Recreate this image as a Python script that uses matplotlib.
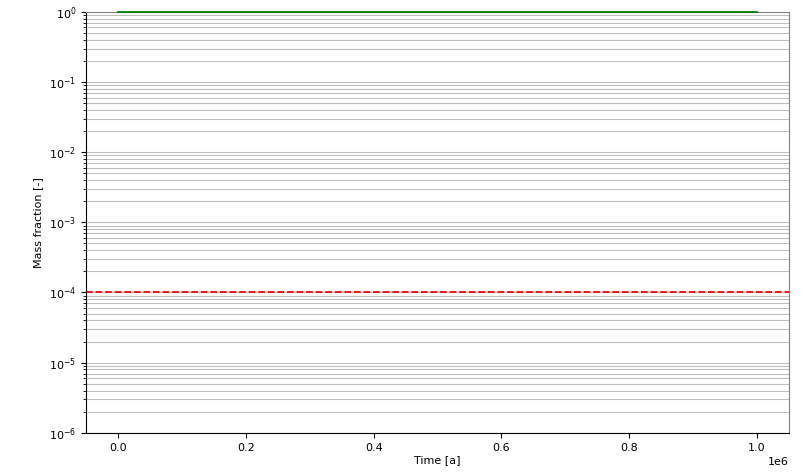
# mass fraction over time, log scale, with a detection limit line
import matplotlib
matplotlib.use("Agg")
import matplotlib.pyplot as plt

# DATA
time = [0.0, 2.0e5, 4.0e5, 6.0e5, 8.0e5, 1.0e6]  # a
mass_fraction = [1.0, 1.0, 1.0, 1.0, 1.0, 1.0]  # -
limit = 1e-4

plt.rcParams["font.size"] = 8

fig, ax = plt.subplots(figsize=(8.05, 4.73), dpi=100)
fig.subplots_adjust(left=0.107, right=0.980, top=0.975, bottom=0.085)

ax.plot(time, mass_fraction, color="green", linewidth=1.3, clip_on=False, zorder=3)
ax.axhline(limit, color="red", linestyle="--", linewidth=1.3)

ax.set_yscale("log")
ax.set_ylim(1e-6, 1e0)
ax.set_xlim(-0.05e6, 1.05e6)
ax.set_xlabel("Time [a]", labelpad=2)
ax.set_ylabel("Mass fraction [-]")
ax.grid(True, which="both", axis="y", color="0.75")
ax.spines["top"].set_color("0.5")
ax.spines["right"].set_color("0.5")

fig.savefig("out.png")
